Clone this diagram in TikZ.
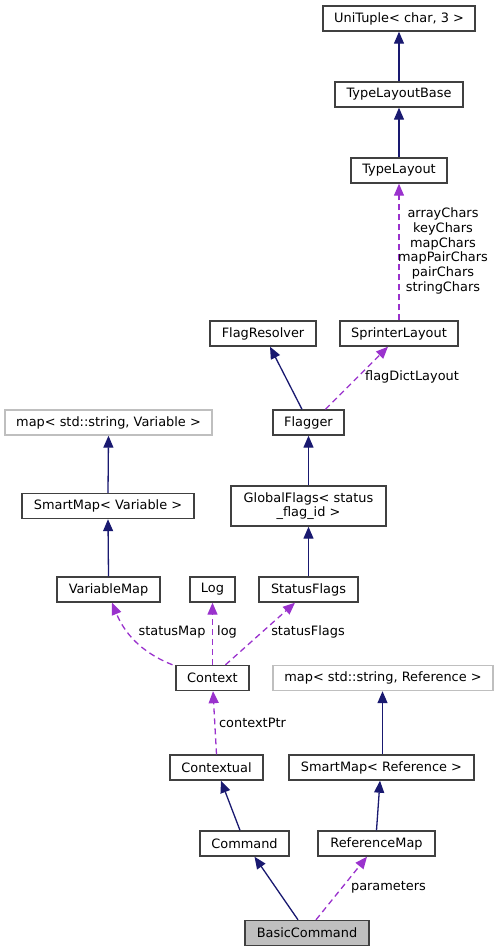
\documentclass[tikz,border=0pt]{standalone}
\usepackage{fontspec}
\setmainfont{DejaVu Sans}
\usetikzlibrary{arrows.meta}
\definecolor{navy}{HTML}{191970}
\definecolor{purp}{HTML}{9A32CD}
\definecolor{boxgray}{HTML}{404040}
\definecolor{lgray}{HTML}{BFBFBF}
\newcommand{\fs}{\fontsize{12.9}{14.7}\selectfont}
\tikzset{
  cls/.style={draw=boxgray, line width=1.4pt, fill=white, inner sep=0pt, font=\fs, text=black, align=center},
  ext/.style={cls, draw=lgray},
  inh/.style={navy, line width=1.3pt, -{Triangle[length=12pt,width=10pt]}},
  use/.style={purp, line width=1.3pt, dash pattern=on 6pt off 4pt, -{Triangle[length=12pt,width=10pt]}},
  lbl/.style={font=\fs, text=black, inner sep=0pt, align=center},
}
\begin{document}
\begin{tikzpicture}[x=1pt,y=-1pt]
\useasboundingbox (0,0) rectangle (499,952);
% nodes
\node[cls, minimum width=152pt, minimum height=25pt] (uni) at (399,18.5) {UniTuple< char, 3 >};
\node[cls, minimum width=128pt, minimum height=25pt] (tlb) at (399,94.5) {TypeLayoutBase};
\node[cls, minimum width=96pt, minimum height=25pt] (tl) at (399,170.5) {TypeLayout};
\node[cls, minimum width=106pt, minimum height=25pt] (fr) at (263,333.5) {FlagResolver};
\node[cls, minimum width=118pt, minimum height=25pt] (sl) at (399,333.5) {SprinterLayout};
\node[ext, minimum width=207pt, minimum height=25pt] (mapv) at (108.5,422.5) {map< std::string, Variable >};
\node[cls, minimum width=71pt, minimum height=25pt] (fl) at (308.5,422.5) {Flagger};
\node[cls, minimum width=172pt, minimum height=25pt] (smv) at (108,506) {SmartMap< Variable >};
\node[cls, minimum width=155pt, minimum height=40pt] (gf) at (308.5,506) {GlobalFlags< status\\\_flag\_id >};
\node[cls, minimum width=103pt, minimum height=25pt] (vm) at (108.5,589.5) {VariableMap};
\node[cls, minimum width=45pt, minimum height=25pt] (log) at (212.5,589.5) {Log};
\node[cls, minimum width=99pt, minimum height=25pt] (sf) at (308.5,589.5) {StatusFlags};
\node[cls, minimum width=73pt, minimum height=25pt] (ctx) at (212.5,678) {Context};
\node[ext, minimum width=220pt, minimum height=25pt] (mapr) at (383,678) {map< std::string, Reference >};
\node[cls, minimum width=93pt, minimum height=25pt] (ctl) at (216.5,767.5) {Contextual};
\node[cls, minimum width=185pt, minimum height=25pt] (smr) at (381.5,767.5) {SmartMap< Reference >};
\node[cls, minimum width=89pt, minimum height=25pt] (cmd) at (244.5,843.5) {Command};
\node[cls, minimum width=117pt, minimum height=25pt] (rm) at (376.5,843.5) {ReferenceMap};
\node[cls, fill=lgray, minimum width=124pt, minimum height=25pt] (bc) at (307,933) {BasicCommand};
% inheritance
\draw[inh] (tlb.north) -- (uni.south);
\draw[inh] (tl.north) -- (tlb.south);
\draw[inh] ([xshift=-6.5pt]fl.north) -- ([xshift=7pt]fr.south);
\draw[inh] (gf.north) -- (fl.south);
\draw[inh] (sf.north) -- (gf.south);
\draw[inh] (smv.north) -- (mapv.south);
\draw[inh] (vm.north) -- (smv.south);
\draw[inh] ([xshift=1pt]smr.north) -- ([xshift=-0.5pt]mapr.south);
\draw[inh] (rm.north) -- ([xshift=-1.5pt]smr.south);
\draw[inh] ([xshift=-4.5pt]cmd.north) -- ([xshift=4.5pt]ctl.south);
\draw[inh] ([xshift=-9pt]bc.north) -- ([xshift=10pt]cmd.south);
% usage
\draw[use] (sl.north) -- (tl.south);
\draw[use] ([xshift=17pt]fl.north) -- ([xshift=-11pt]sl.south);
\draw[use] ([xshift=-40pt]ctx.north) .. controls (140,652) and (124,632) .. ([xshift=3.5pt]vm.south);
\draw[use] (ctx.north) -- (log.south);
\draw[use] ([xshift=13pt]ctx.north) -- ([xshift=-13.5pt]sf.south);
\draw[use] (ctl.north) -- ([xshift=0.5pt]ctx.south);
\draw[use] ([xshift=9pt]bc.north) -- ([xshift=-9.5pt]rm.south);
% labels
\node[lbl] (l1) at (443,251) {arrayChars\\keyChars\\mapChars\\mapPairChars\\pairChars\\stringChars};
\node[lbl] (l2) at (412,377) {flagDictLayout};
\node[lbl] (l3) at (172,632) {statusMap};
\node[lbl] (l4) at (227,632) {log};
\node[lbl] (l5) at (308,632) {statusFlags};
\node[lbl] (l6) at (252.5,722.5) {contextPtr};
\node[lbl] (l7) at (388.5,887.5) {parameters};
\end{tikzpicture}
\end{document}
